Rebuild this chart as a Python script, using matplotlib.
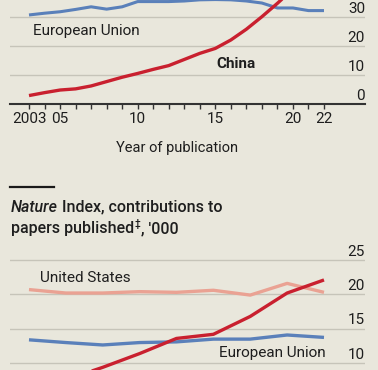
import matplotlib
matplotlib.use("Agg")
import matplotlib.pyplot as plt
import matplotlib.transforms as mtransforms
from matplotlib.lines import Line2D

plt.rcParams['font.family'] = ['Roboto', 'DejaVu Sans']

# ---- data: top panel (year of publication) ----
years_top = list(range(2003, 2023))
china_top = [2.9, 3.9, 4.8, 5.2, 6.2, 7.7, 9.2, 10.5, 11.9, 13.2,
             15.3, 17.4, 19.1, 22.0, 25.7, 30.0, 34.6, 39.5, 43.0, 46.0]
eu_top = [30.6, 31.2, 31.7, 32.5, 33.4, 32.6, 33.4, 35.2, 35.2, 35.2,
          35.4, 35.8, 35.9, 35.8, 35.4, 34.7, 33.0, 33.0, 32.1, 32.1]
top_ticklabels = {2003: "2003", 2005: "05", 2010: "10", 2015: "15", 2020: "20", 2022: "22"}
top_yticks = [0, 10, 20, 30]

# ---- data: bottom panel (Nature Index, '000) ----
years_bot = list(range(2014, 2023))
us_bot = [20.7, 20.2, 20.2, 20.4, 20.3, 20.6, 19.9, 21.6, 20.3]
eu_bot = [13.4, 13.0, 12.65, 13.0, 13.1, 13.5, 13.5, 14.1, 13.75]
china_bot = [6.0, 7.6, 9.4, 11.4, 13.6, 14.2, 16.8, 20.2, 22.1]
bot_yticks = [10, 15, 20, 25]

BG = '#e9e7dc'
GRID = '#c6c4b9'
RED = '#c9202f'
BLUE = '#5a80ba'
SALMON = '#eaa293'
TXT = '#1e1e1e'

W, H = 378, 370
fig = plt.figure(figsize=(W / 100, H / 100), dpi=100, facecolor=BG)


def fx(px):
    return px / W


def fy(py):
    return 1 - py / H


def ftext(x, y, s, **kw):
    kw.setdefault('color', TXT)
    return fig.text(fx(x), fy(y), s, **kw)


FS = 11

# ---------------- top panel ----------------
ax1 = fig.add_axes([fx(10), fy(104), (365 - 10) / W, 104 / H])
ax1.set_facecolor(BG)
ax1.set_xlim(2001.776, 2024.641)
ax1.set_ylim(0, 35.74)
for s in ['top', 'right', 'left']:
    ax1.spines[s].set_visible(False)
ax1.spines['bottom'].set_color('#333333')
ax1.spines['bottom'].set_linewidth(1.5)
for v in top_yticks[1:]:
    ax1.axhline(v, color=GRID, lw=1.0, zorder=0)
ax1.set_yticks([])
ax1.set_xticks(years_top)
ax1.set_xticklabels([top_ticklabels.get(y, "") for y in years_top], fontsize=FS, color=TXT)
ax1.tick_params(axis='x', direction='out', length=3.8, width=1.0, color='#333333', pad=2)
ax1.plot(years_top, eu_top, color=BLUE, lw=2.2, solid_capstyle='butt', zorder=3)
ax1.plot(years_top, china_top, color=RED, lw=2.4, solid_capstyle='butt', zorder=4)
tr1 = mtransforms.offset_copy(mtransforms.blended_transform_factory(ax1.transAxes, ax1.transData),
                              fig=fig, x=0, y=4, units='dots')
for v in top_yticks:
    ax1.text(1.0, v, str(v), transform=tr1, ha='right', va='baseline', fontsize=FS, color=TXT)

ftext(33, 35, "European Union", fontsize=FS, ha='left', va='baseline')
ftext(216, 68.3, "China", fontsize=FS, ha='left', va='baseline', weight='bold')
ftext(177, 151.7, "Year of publication", fontsize=FS - 0.5, ha='center', va='baseline')

# ---------------- title of bottom panel ----------------
fig.add_artist(Line2D([fx(10), fx(54)], [fy(187), fy(187)], color='#1a1a1a', lw=1.6))
TFS = 11.5
TW = 'medium'
t1 = ftext(11, 211.7, "Nature", fontsize=TFS, ha='left', va='baseline', style='italic', weight=TW)
plt.annotate("Index, contributions to", xy=(1, 0), xycoords=t1, xytext=(2.6, 0),
             textcoords='offset points', va='bottom', ha='left',
             fontsize=TFS, weight=TW, color=TXT)
t2 = ftext(11, 233.3, "papers published", fontsize=TFS, ha='left', va='baseline', weight=TW)
t2b = plt.annotate("\u2021", xy=(1, 0), xycoords=t2, xytext=(0.5, 5.5), textcoords='offset points',
                   va='bottom', ha='left', fontsize=7, weight=TW, color=TXT)
plt.annotate(", '000", xy=(1, 0), xycoords=t2b, xytext=(0, -5.5), textcoords='offset points',
             va='bottom', ha='left', fontsize=TFS, weight=TW, color=TXT)

# ---------------- bottom panel ----------------
ax2 = fig.add_axes([fx(10), fy(370), (365 - 10) / W, 130 / H])
ax2.set_facecolor(BG)
ax2.patch.set_alpha(0)
ax2.set_xlim(2013.485, 2023.112)
ax2.set_ylim(9.012, 27.907)
for s in ax2.spines.values():
    s.set_visible(False)
ax2.set_xticks([])
ax2.set_yticks([])
for v in bot_yticks:
    ax2.axhline(v, color=GRID, lw=1.0, zorder=0)
ax2.plot(years_bot, us_bot, color=SALMON, lw=2.4, solid_capstyle='butt', zorder=3)
ax2.plot(years_bot, eu_bot, color=BLUE, lw=2.4, solid_capstyle='butt', zorder=3)
ax2.plot(years_bot, china_bot, color=RED, lw=2.4, solid_capstyle='butt', zorder=4)
tr2 = mtransforms.offset_copy(mtransforms.blended_transform_factory(ax2.transAxes, ax2.transData),
                              fig=fig, x=0, y=4.5, units='dots')
for v in bot_yticks:
    ax2.text(1.0, v, str(v), transform=tr2, ha='right', va='baseline', fontsize=FS, color=TXT)

ftext(40, 281.7, "United States", fontsize=FS, ha='left', va='baseline')
ftext(325.5, 357.3, "European Union", fontsize=FS, ha='right', va='baseline')

fig.savefig("out.png", dpi=100, facecolor=BG)
